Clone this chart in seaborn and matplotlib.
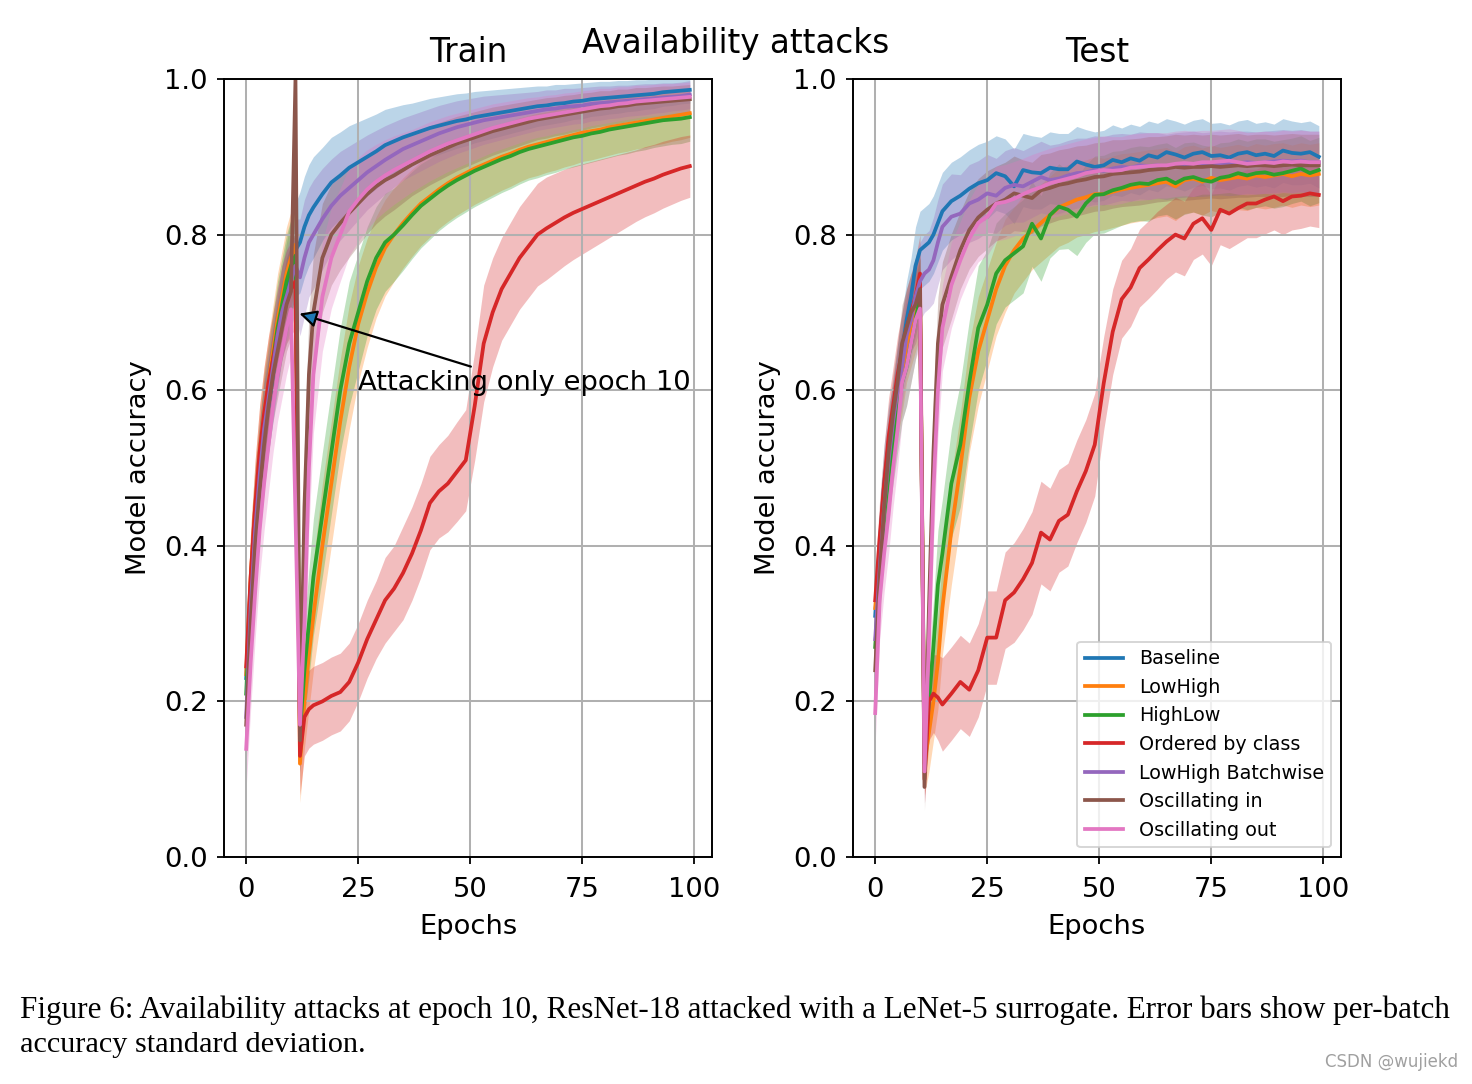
import numpy as np
import pandas as pd
import matplotlib
matplotlib.use("Agg")
import matplotlib.pyplot as plt
from matplotlib.lines import Line2D
import seaborn as sns

# ---------------- data ----------------
EPOCHS = list(range(0, 15)) + list(range(15, 100, 2))

SERIES = ["Baseline", "LowHigh", "HighLow", "Ordered by class",
          "LowHigh Batchwise", "Oscillating in", "Oscillating out"]
COLORS = ["#1f77b4", "#ff7f0e", "#2ca02c", "#d62728",
          "#9467bd", "#8c564b", "#e377c2"]

# ---- Train means ----
train_baseline = [.23, .35, .44, .50, .55, .58, .62, .66, .70, .73, .76, .78, .79, .81, .825,
                  .835, .852, .867, .876, .886, .893, .900, .907, .915, .920, .925, .929, .933, .937, .940,
                  .943, .946, .948, .951, .953, .955, .957, .959, .961, .963, .965, .966, .968, .969,
                  .971, .972, .974, .975, .976, .977, .978, .979, .980, .981, .983, .984, .985, .986]
train_lowhigh = [.235, .36, .45, .52, .57, .61, .65, .69, .72, .75, .77, .787, .12, .20, .26,
                 .31, .40, .48, .56, .63, .685, .725, .758, .783, .80, .815, .828, .84, .849, .858,
                 .866, .873, .879, .885, .89, .895, .90, .904, .909, .913, .916, .919, .922, .925,
                 .928, .931, .933, .935, .938, .940, .942, .944, .946, .948, .950, .952, .954, .956]
train_highlow = [.21, .34, .43, .50, .56, .60, .64, .68, .71, .74, .76, .773, .16, .24, .30,
                 .36, .44, .52, .60, .66, .70, .74, .77, .79, .80, .812, .825, .837, .846, .855,
                 .863, .870, .876, .882, .887, .892, .897, .901, .906, .910, .913, .916, .919, .922,
                 .925, .927, .930, .932, .935, .937, .939, .941, .943, .945, .947, .948, .949, .951]
train_ordered = [.245, .36, .45, .52, .57, .61, .64, .67, .70, .72, .73, .74, .13, .18, .19,
                 .195, .20, .207, .212, .225, .25, .28, .305, .33, .345, .365, .39, .42, .455, .47,
                 .48, .495, .51, .58, .66, .70, .73, .75, .77, .785, .80, .808, .815, .822,
                 .828, .833, .838, .843, .848, .853, .858, .863, .868, .872, .877, .881, .885, .888]
train_batchwise = [.18, .32, .42, .49, .55, .59, .63, .67, .70, .72, .74, .76, .745, .77, .79,
                   .80, .82, .837, .85, .86, .87, .88, .888, .896, .903, .91, .915, .92, .925, .93,
                   .934, .938, .941, .944, .947, .949, .951, .953, .955, .957, .959, .961, .962, .964,
                   .965, .966, .968, .969, .970, .971, .972, .973, .974, .975, .976, .977, .978, .980]
train_osc_in = [.17, .30, .40, .47, .53, .58, .62, .65, .68, .71, .727, 1.0, .15, .45, .62,
                .70, .77, .80, .815, .828, .84, .852, .862, .87, .876, .883, .89, .896, .902, .907,
                .912, .917, .921, .925, .929, .933, .936, .939, .942, .945, .948, .95, .952, .954,
                .956, .958, .96, .962, .963, .965, .966, .968, .969, .97, .971, .972, .973, .974]
train_osc_out = [.139, .25, .34, .42, .48, .53, .58, .62, .65, .68, .704, .44, .17, .30, .50,
                 .62, .72, .77, .80, .83, .845, .858, .868, .876, .883, .889, .895, .901, .907, .912,
                 .917, .921, .925, .929, .933, .937, .94, .943, .946, .949, .951, .953, .955, .957,
                 .959, .961, .963, .965, .966, .968, .969, .971, .972, .973, .974, .975, .976, .977]

# ---- Train standard deviations ----
train_sd_baseline = [.05, .06, .06, .06, .06, .06, .06, .06, .06, .06, .06, .06, .065, .065, .065,
                     .065, .06, .058, .056, .054, .052, .05, .048, .046, .044, .042, .04, .039, .038, .037,
                     .036, .035, .034, .033, .032, .031, .03, .029, .028, .027, .026, .025, .025, .024,
                     .023, .023, .022, .022, .021, .021, .02, .02, .019, .019, .018, .018, .017, .017]
train_sd_lowhigh = [.05, .06, .06, .06, .06, .06, .06, .06, .06, .06, .06, .06, .05, .06, .07,
                    .07, .08, .08, .08, .08, .075, .07, .065, .062, .06, .058, .056, .054, .052, .05,
                    .049, .048, .047, .046, .045, .044, .043, .042, .041, .04, .04, .039, .039, .038,
                    .038, .037, .037, .036, .036, .035, .035, .034, .034, .033, .033, .032, .032, .031]
train_sd_highlow = [.05, .06, .06, .06, .06, .06, .06, .06, .06, .06, .06, .06, .05, .06, .07,
                    .075, .08, .08, .08, .08, .075, .07, .066, .063, .06, .058, .056, .054, .052, .05,
                    .049, .048, .047, .046, .045, .044, .043, .042, .041, .04, .04, .039, .039, .038,
                    .038, .037, .037, .036, .036, .035, .035, .034, .034, .033, .033, .032, .032, .031]
train_sd_ordered = [.05, .06, .06, .06, .06, .06, .06, .06, .06, .06, .06, .06, .05, .05, .05,
                    .05, .05, .05, .05, .05, .05, .05, .05, .055, .055, .06, .06, .06, .06, .06,
                    .062, .064, .065, .07, .075, .07, .066, .066, .066, .066, .066, .066, .064, .062,
                    .06, .058, .056, .054, .052, .05, .048, .046, .045, .044, .043, .042, .041, .04]
train_sd_batchwise = [.05, .06, .06, .06, .06, .06, .06, .06, .06, .06, .06, .06, .075, .075, .07,
                      .07, .065, .06, .057, .054, .051, .048, .046, .044, .042, .04, .039, .038, .037, .036,
                      .035, .034, .033, .032, .031, .03, .029, .028, .027, .026, .025, .025, .024, .024,
                      .023, .023, .022, .022, .021, .021, .02, .02, .02, .019, .019, .018, .018, .018]
train_sd_osc_in = [.05, .06, .06, .06, .06, .06, .06, .06, .06, .06, .06, .03, .06, .08, .08,
                   .075, .07, .065, .06, .057, .054, .051, .048, .046, .044, .042, .04, .039, .038, .037,
                   .036, .035, .034, .033, .032, .031, .03, .029, .028, .027, .026, .026, .025, .025,
                   .024, .024, .023, .023, .022, .022, .021, .021, .02, .02, .02, .019, .019, .019]
train_sd_osc_out = [.05, .06, .06, .06, .06, .06, .06, .06, .06, .06, .06, .05, .06, .08, .08,
                    .075, .07, .065, .06, .057, .054, .051, .048, .046, .044, .042, .04, .039, .038, .037,
                    .036, .035, .034, .033, .032, .031, .03, .029, .028, .027, .026, .026, .025, .025,
                    .024, .024, .023, .023, .022, .022, .021, .021, .02, .02, .02, .019, .019, .019]

# ---- Test means ----
test_baseline = [.31, .40, .48, .53, .56, .61, .65, .69, .72, .76, .78, .785, .79, .80, .815,
                 .83, .843, .85, .859, .866, .87, .879, .875, .862, .883, .88, .879, .886, .884, .884,
                 .894, .89, .887, .889, .896, .893, .898, .895, .902, .899, .906, .903, .899, .904,
                 .906, .901, .902, .899, .904, .906, .902, .904, .901, .908, .905, .904, .906, .90]
test_lowhigh = [.32, .39, .46, .51, .55, .59, .62, .66, .68, .70, .72, .12, .16, .20, .25,
                .32, .42, .50, .59, .65, .69, .73, .76, .78, .795, .805, .815, .825, .835, .84,
                .845, .848, .852, .852, .855, .858, .86, .862, .864, .866, .868, .862, .87, .872,
                .868, .873, .87, .872, .874, .872, .876, .874, .876, .878, .875, .878, .876, .878]
test_highlow = [.27, .36, .44, .49, .53, .57, .61, .63, .66, .69, .72, .13, .20, .27, .35,
                .39, .48, .53, .61, .68, .71, .75, .767, .776, .785, .814, .795, .825, .836, .832,
                .823, .84, .851, .852, .857, .86, .864, .866, .865, .87, .872, .866, .872, .874,
                .87, .868, .873, .875, .879, .876, .879, .88, .877, .879, .882, .885, .879, .883]
test_ordered = [.33, .41, .48, .54, .58, .62, .65, .68, .70, .72, .75, .10, .20, .21, .205,
                .196, .21, .225, .215, .24, .282, .282, .33, .34, .357, .378, .417, .408, .432, .44,
                .47, .496, .53, .609, .675, .717, .732, .757, .768, .78, .791, .80, .795, .814,
                .821, .806, .832, .827, .834, .84, .84, .845, .849, .843, .849, .85, .853, .851]
test_batchwise = [.28, .37, .45, .51, .56, .60, .63, .67, .69, .72, .74, .75, .755, .767, .79,
                  .81, .823, .827, .84, .845, .853, .85, .86, .864, .862, .868, .874, .87, .872, .876,
                  .879, .88, .883, .882, .885, .887, .886, .889, .888, .889, .887, .889, .89, .891,
                  .89, .891, .892, .891, .892, .893, .892, .893, .894, .895, .894, .895, .893, .893]
test_osc_in = [.24, .36, .45, .52, .57, .61, .66, .68, .70, .71, .73, .09, .32, .52, .66,
               .71, .746, .78, .806, .822, .832, .84, .845, .853, .85, .847, .857, .86, .864, .866,
               .869, .871, .874, .875, .878, .879, .88, .881, .883, .884, .885, .887, .886, .887,
               .887, .888, .887, .888, .889, .888, .889, .889, .888, .889, .89, .889, .889, .889]
test_osc_out = [.185, .33, .39, .44, .50, .55, .61, .63, .66, .69, .705, .11, .28, .47, .60,
                .68, .735, .767, .795, .815, .823, .84, .842, .846, .852, .857, .861, .866, .869, .872,
                .875, .879, .881, .883, .882, .883, .886, .887, .888, .889, .889, .891, .892, .891,
                .893, .893, .894, .895, .893, .891, .892, .893, .892, .894, .893, .894, .893, .893]

# ---- Test standard deviations ----
test_sd_baseline = [.04, .05, .05, .05, .05, .05, .05, .05, .05, .05, .05, .05, .05, .05, .05,
                    .05, .05, .05, .05, .05, .05, .048, .048, .048, .047, .047, .046, .046, .046, .046,
                    .045, .045, .045, .045, .045, .044, .044, .044, .044, .044, .043, .043, .043, .043,
                    .043, .042, .042, .042, .042, .042, .041, .041, .041, .041, .041, .04, .04, .04]
test_sd_lowhigh = [.04, .05, .05, .05, .05, .05, .05, .05, .05, .05, .05, .04, .05, .05, .06,
                   .06, .07, .07, .07, .07, .065, .06, .06, .055, .055, .05, .05, .05, .05, .05,
                   .048, .048, .048, .046, .046, .046, .045, .045, .045, .044, .044, .044, .043, .043,
                   .043, .042, .042, .042, .042, .041, .041, .041, .041, .04, .04, .04, .04, .04]
test_sd_highlow = [.04, .05, .05, .05, .05, .05, .05, .05, .05, .05, .05, .04, .05, .06, .07,
                   .07, .07, .08, .08, .08, .07, .065, .06, .06, .06, .055, .055, .055, .055, .05,
                   .05, .05, .05, .05, .05, .048, .048, .048, .048, .046, .046, .046, .046, .045,
                   .045, .045, .045, .044, .044, .044, .044, .043, .043, .043, .042, .042, .042, .042]
test_sd_ordered = [.04, .05, .05, .05, .05, .05, .05, .05, .05, .05, .05, .03, .05, .05, .055,
                   .06, .06, .06, .06, .06, .06, .06, .062, .064, .065, .066, .066, .066, .066, .066,
                   .066, .066, .066, .06, .055, .05, .05, .05, .05, .05, .048, .048, .048, .046,
                   .046, .046, .045, .045, .045, .044, .044, .044, .043, .043, .043, .042, .042, .042]
test_sd_batchwise = [.04, .05, .05, .05, .05, .05, .05, .05, .05, .05, .05, .05, .05, .055, .055,
                     .055, .055, .05, .05, .05, .05, .048, .048, .048, .046, .046, .046, .045, .045, .045,
                     .045, .044, .044, .044, .044, .043, .043, .043, .043, .042, .042, .042, .042, .042,
                     .041, .041, .041, .041, .041, .04, .04, .04, .04, .04, .04, .04, .04, .04]
test_sd_osc_in = [.04, .05, .05, .05, .05, .05, .05, .05, .05, .05, .05, .03, .07, .07, .06,
                  .055, .055, .05, .05, .05, .05, .048, .048, .048, .046, .046, .046, .045, .045, .045,
                  .045, .044, .044, .044, .044, .043, .043, .043, .043, .042, .042, .042, .042, .042,
                  .041, .041, .041, .041, .041, .04, .04, .04, .04, .04, .04, .04, .04, .04]
test_sd_osc_out = [.04, .05, .05, .05, .05, .05, .05, .05, .05, .05, .05, .04, .07, .07, .06,
                   .055, .055, .05, .05, .05, .05, .048, .048, .048, .046, .046, .046, .045, .045, .045,
                   .045, .044, .044, .044, .044, .043, .043, .043, .043, .042, .042, .042, .042, .042,
                   .041, .041, .041, .041, .041, .04, .04, .04, .04, .04, .04, .04, .04, .04]

TRAIN_MEAN = [train_baseline, train_lowhigh, train_highlow, train_ordered,
              train_batchwise, train_osc_in, train_osc_out]
TRAIN_SD = [train_sd_baseline, train_sd_lowhigh, train_sd_highlow, train_sd_ordered,
            train_sd_batchwise, train_sd_osc_in, train_sd_osc_out]
TEST_MEAN = [test_baseline, test_lowhigh, test_highlow, test_ordered,
             test_batchwise, test_osc_in, test_osc_out]
TEST_SD = [test_sd_baseline, test_sd_lowhigh, test_sd_highlow, test_sd_ordered,
           test_sd_batchwise, test_sd_osc_in, test_sd_osc_out]

for arr in TRAIN_MEAN + TRAIN_SD + TEST_MEAN + TEST_SD:
    assert len(arr) == len(EPOCHS), len(arr)

rows = []
for panel, means in (("Train", TRAIN_MEAN), ("Test", TEST_MEAN)):
    for name, vals in zip(SERIES, means):
        for e, v in zip(EPOCHS, vals):
            rows.append({"panel": panel, "series": name, "epoch": e, "acc": v})
df = pd.DataFrame(rows)

# ---------------- style ----------------
plt.rcParams["font.family"] = ["DejaVu Sans"]
plt.rcParams["font.size"] = 19.7

W, H = 1472, 1084
fig = plt.figure(figsize=(W / 100, H / 100), dpi=100)
axL = fig.add_axes([224 / W, 1 - 857 / H, 488 / W, 778 / H])
axR = fig.add_axes([853 / W, 1 - 857 / H, 488 / W, 778 / H])

LW = 2.7
for ax, panel, means, sds in ((axL, "Train", TRAIN_MEAN, TRAIN_SD),
                              (axR, "Test", TEST_MEAN, TEST_SD)):
    for vals, sd, c in zip(means, sds, COLORS):
        m = np.array(vals)
        s = np.array(sd)
        ax.fill_between(EPOCHS, m - s, m + s, color=c, alpha=0.3, lw=0)
    sns.lineplot(data=df[df["panel"] == panel], x="epoch", y="acc", hue="series",
                 hue_order=SERIES, palette=COLORS, linewidth=LW, ax=ax,
                 legend=False, errorbar=None)
    ax.set_xlim(-4.95, 103.95)
    ax.set_ylim(0, 1)
    ax.set_xticks([0, 25, 50, 75, 100])
    ax.set_yticks([0.0, 0.2, 0.4, 0.6, 0.8, 1.0])
    ax.set_yticklabels(["0.0", "0.2", "0.4", "0.6", "0.8", "1.0"])
    ax.grid(True, color="#b0b0b0", lw=1.45)
    ax.tick_params(length=5, width=1.3, labelsize=19.7)
    ax.tick_params(axis="x", pad=9.5)
    ax.tick_params(axis="y", pad=6.5)
    for sp in ax.spines.values():
        sp.set_linewidth(1.4)
    ax.set_xlabel("Epochs", labelpad=7.5)
    ax.set_ylabel("Model accuracy", labelpad=8.5)
    ax.set_title(panel, fontsize=23.5, pad=12)

axL.annotate("Attacking only epoch 10", xy=(11, 0.70), xytext=(25, 0.6),
             fontsize=19.7,
             arrowprops=dict(arrowstyle="-|>", lw=1.6, mutation_scale=26, shrinkB=3))

handles = [Line2D([0], [0], color=c, lw=LW) for c in COLORS]
leg = axR.legend(handles, SERIES, loc="lower right", fontsize=13.8)
leg.get_frame().set_linewidth(1.4)

fig.text(0.5, 1 - 53 / H, "Availability attacks", ha="center", va="baseline", fontsize=23.5)

fig.text(20 / W, 1 - 1018 / H,
         "Figure 6: Availability attacks at epoch 10, ResNet-18 attacked with a LeNet-5 surrogate. "
         "Error bars show per-batch",
         family="Liberation Serif", fontsize=22.4, va="baseline", ha="left")
fig.text(20 / W, 1 - 1052 / H, "accuracy standard deviation.",
         family="Liberation Serif", fontsize=21.8, va="baseline", ha="left")
fig.text(1458 / W, 1 - 1062 / H, "CSDN @wujiekd", ha="right", va="center",
         fontsize=12, color="#a0a0a0")

fig.savefig("out.png", dpi=100)
